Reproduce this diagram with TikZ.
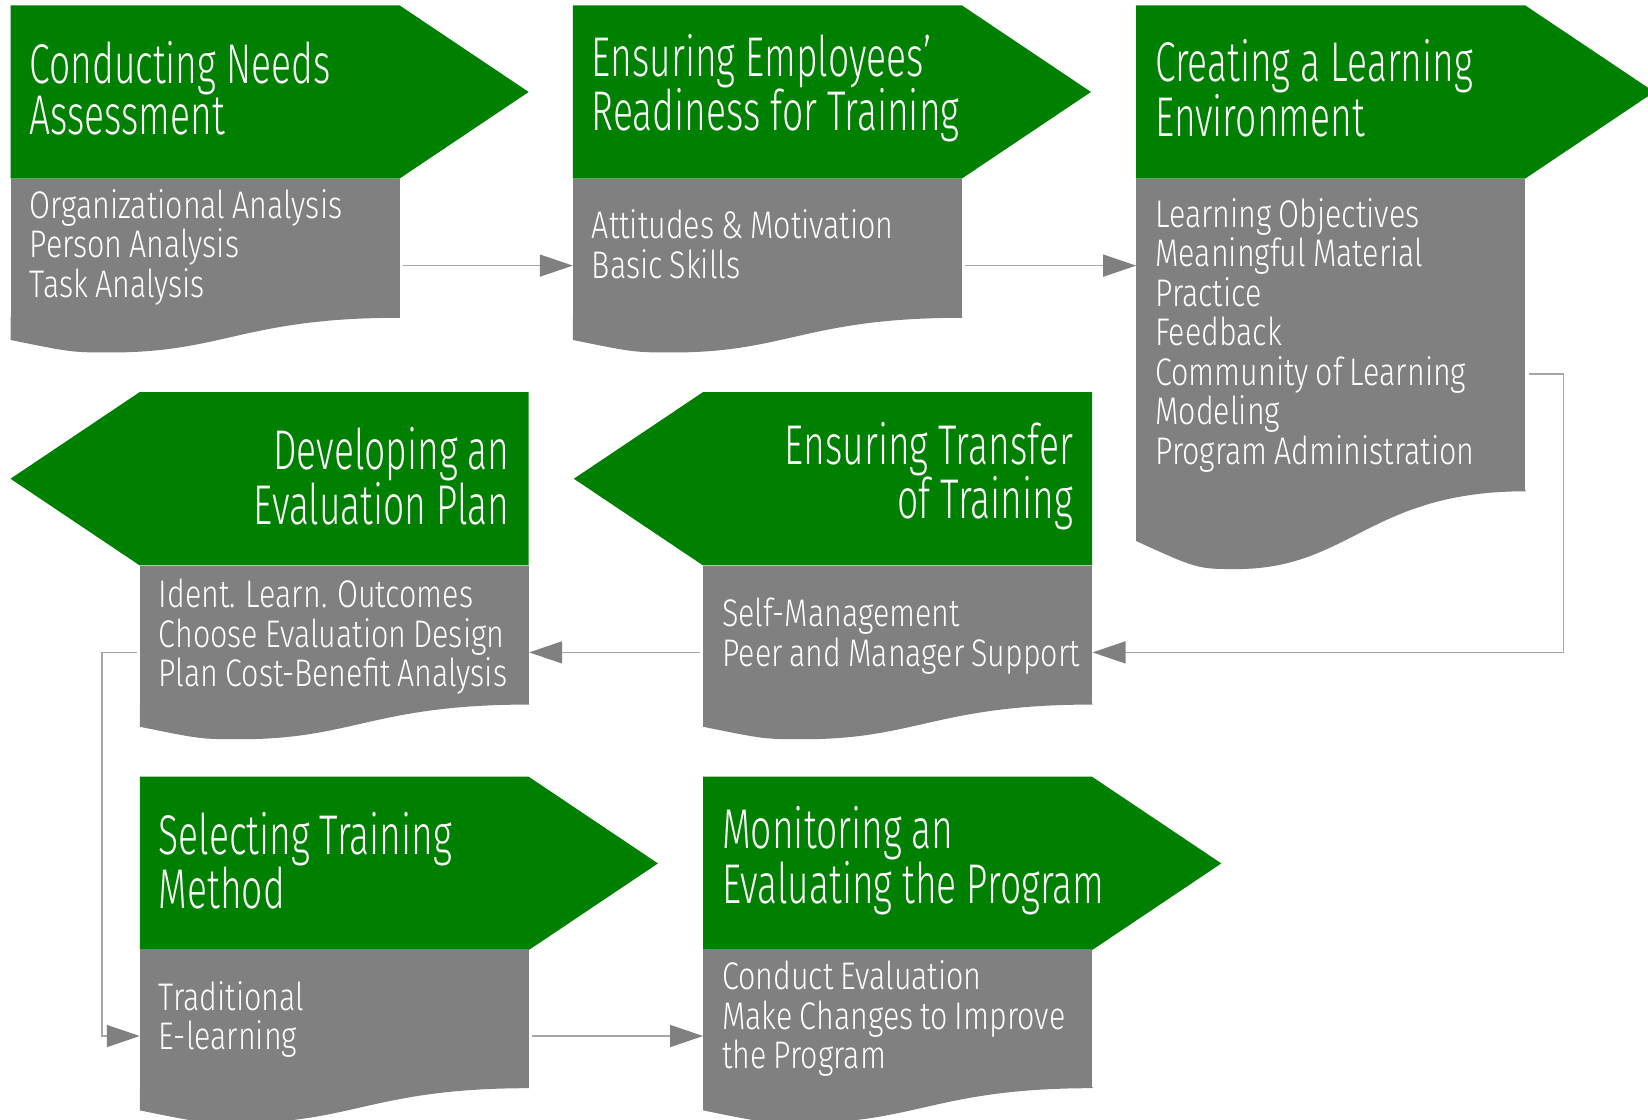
\documentclass[tikz,border=0pt]{standalone}
\usepackage{fontspec}
\IfFontExistsTF{Fira Sans Light}
	{\setmainfont{Fira Sans Light}[FakeStretch=0.665]
	 \newfontfamily\itemfont{Fira Sans Light}[FakeStretch=0.79]}
	{\setmainfont{Fira Sans}[FakeStretch=0.665]
	 \newfontfamily\itemfont{Fira Sans}[FakeStretch=0.79]}
\newcommand\stagetitlefont{\fontsize{56}{48.5}\selectfont\spaceskip=10pt plus 2pt minus 1pt\relax}
\newcommand\stageitemfont{\itemfont\fontsize{38.5}{39.5}\selectfont\spaceskip=7pt plus 2pt minus 1pt\relax}
\usetikzlibrary{calc,arrows.meta}
\definecolor{stagegreen}{RGB}{0,128,0}
\definecolor{stagegray}{RGB}{128,128,128}
\definecolor{flowline}{RGB}{166,166,166}
\tikzset{
	training flow/.style={
		x=1.051pt,y=-1.051pt,
		stage head/.style={fill=stagegreen},
		stage tail/.style={fill=stagegray},
		stage box/.style={
			rectangle,
			fill=stagegray,
			anchor=north west,
			minimum width=389pt,
			minimum height=138.7pt,
			inner sep=0pt
		},
		stage items/.style={
			anchor=west,
			inner sep=0pt,
			align=left,
			text=white,
			font=\stageitemfont
		},
		stage title/.style={
			anchor=west,
			inner sep=0pt,
			align=left,
			text=white,
			font=\stagetitlefont
		},
		stage title left/.style={
			stage title,
			anchor=east,
			align=right
		},
		flow arrow/.style={
			draw=flowline,
			line width=1.5pt,
			shorten <=3pt,
			-{Triangle[length=33pt,width=22pt,color=stagegray]}
		}
	}
}

\begin{document}
\begin{tikzpicture}[training flow]
	\useasboundingbox (0,0) rectangle (1568,1065);
	% green heads, pointing right
	\foreach \x/\y in {10/5,545/5,1081/5,133/739,669/739}
		\fill[stage head] (\x,\y) -- ++(370,0) -- ++(123,82.5) -- ++(-123,82.5) -- ++(-370,0) -- cycle;
	% green heads, pointing left
	\foreach \x/\y in {133/373,669/373}
		\fill[stage head] (\x,\y) -- ++(370,0) -- ++(0,165) -- ++(-370,0) -- ++(-123,-82.5) -- cycle;
	\node[stage title] (needs title) at (28,84) {Conducting Needs\\Assessment};
	\node[stage title] (readiness title) at (563,84) {Ensuring Employees’\\Readiness for Training};
	\node[stage title] (environment title) at (1099,84) {Creating a Learning\\Environment};
	\node[stage title left] (evaluation title) at (485,453) {Developing an\\Evaluation Plan};
	\node[stage title left] (transfer title) at (1021,453) {Ensuring Transfer\\of Training};
	\node[stage title] (method title) at (151,819) {Selecting Training\\Method};
	\node[stage title] (monitoring title) at (687,819) {Monitoring an\\Evaluating the Program};
	% gray boxes
	\node[stage box] (needs) at (10,170) {};
	\node[stage box] (readiness) at (545,170) {};
	\node[stage box,minimum height=312.2pt] (environment) at (1081,170) {};
	\node[stage box] (evaluation) at (133,538) {};
	\node[stage box] (transfer) at (669,538) {};
	\node[stage box] (method) at (133,903) {};
	\node[stage box] (monitoring) at (669,903) {};
	% wavy bottoms, and where the connectors meet the boxes
	\foreach \n/\dep in {needs/33,readiness/33,environment/74,evaluation/33,transfer/33,method/33,monitoring/33} {
		\fill[stage tail] ($(\n.south east)+(0,-1)$) -- (\n.south east)
			.. controls +(-148,0) and +(108,0) .. ($(\n.south west)+(95.5,\dep)$)
			.. controls +(-37,0) .. ($(\n.south west)+(0,0.64*\dep)$) -- ($(\n.south west)+(0,-1)$) -- cycle;
		\coordinate (\n-w) at ($(\n.north west)!.625!(\n.south west)$);
		\coordinate (\n-e) at ($(\n.north east)!.625!(\n.south east)$);
	}
	\node[stage items] (needs items) at ($(needs.west)+(18,-1)$) {Organizational Analysis\\Person Analysis\\Task Analysis};
	\node[stage items] (readiness items) at ($(readiness.west)+(18,-4)$) {Attitudes \& Motivation\\Basic Skills};
	\node[stage items] (environment items) at ($(environment.west)+(18,0)$) {Learning Objectives\\Meaningful Material\\Practice\\Feedback\\Community of Learning\\Modeling\\Program Administration};
	\node[stage items] (evaluation items) at ($(evaluation.west)+(18,2)$) {Ident. Learn. Outcomes\\Choose Evaluation Design\\Plan Cost-Benefit Analysis};
	\node[stage items] (transfer items) at ($(transfer.west)+(18,1)$) {Self-Management\\Peer and Manager Support};
	\node[stage items] (method items) at ($(method.west)+(18,1)$) {Traditional\\E-learning};
	\node[stage items] (monitoring items) at ($(monitoring.west)+(18,0)$) {Conduct Evaluation\\Make Changes to Improve\\the Program};
	\draw[flow arrow] (needs-e) -- (needs-e -| readiness.west);
	\draw[flow arrow] (readiness-e) -- (readiness-e -| environment.west);
	\draw[flow arrow] (environment-e) -- ++(36,0) |- (transfer-e);
	\draw[flow arrow] (transfer-w) -- (transfer-w -| evaluation.east);
	\draw[flow arrow] (evaluation-w) -- ++(-36,0) |- (method-w);
	\draw[flow arrow] (method-e) -- (method-e -| monitoring.west);
\end{tikzpicture}
\end{document}
